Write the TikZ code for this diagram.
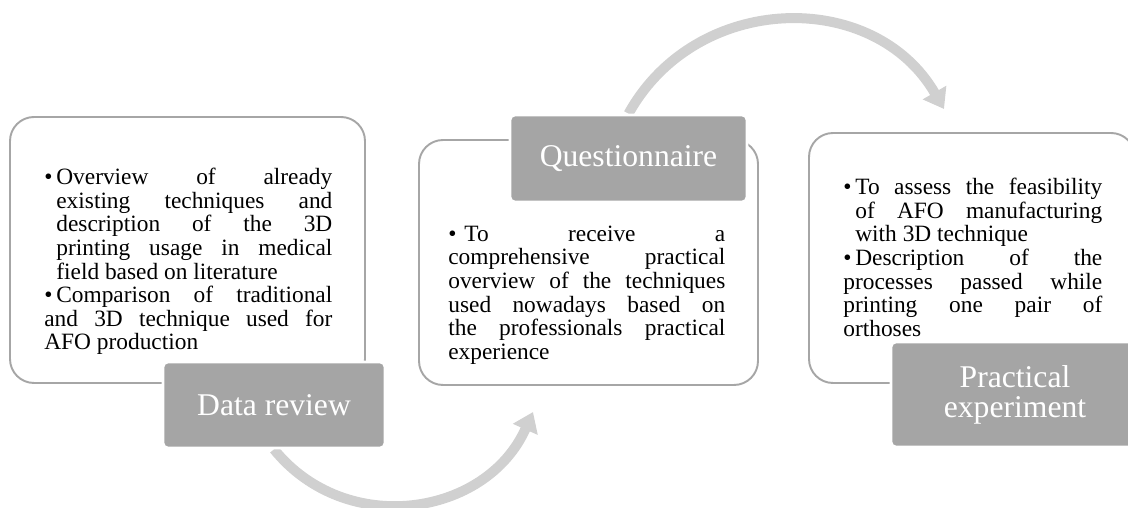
\documentclass[tikz,border=0pt]{standalone}
\usepackage{fontspec}
\setmainfont{Liberation Serif}
\usepackage{tikz}
\usetikzlibrary{arrows.meta, backgrounds}
\definecolor{myframe}{RGB}{166,166,166}
\definecolor{mytitle}{RGB}{165,165,165}
\definecolor{myarc}{RGB}{208,208,208}
\newcommand{\bitem}[2][0.24cm]{\par\tolerance=10000\relax\hyphenpenalty=10000\relax
  \noindent\hangindent=#1\relax\hangafter=1\relax\makebox[#1][l]{\textbullet}#2}
\tikzset{
  outerbox/.style={rectangle, draw=myframe, fill=white,
    line width=1.1pt, rounded corners=0.48cm, inner sep=0pt},
  titlebox/.style={rectangle, draw=white, fill=mytitle,
    line width=1.5pt, rounded corners=0.1cm, inner sep=0pt,
    align=center, text=white, font=\fontsize{18}{17}\selectfont},
  bodytext/.style={inner sep=0pt, anchor=north west, align=justify,
    font=\fontsize{13.3}{13.4}\selectfont},
  cyclearrow/.style={-{Triangle[width=0.52cm,length=0.38cm]},
    line width=0.2cm, color=myarc}
}

\begin{document}
\begin{tikzpicture}
  \useasboundingbox (0,0) rectangle (22.56,10.16);
  % Data review
  \node[outerbox, minimum width=7.1cm, minimum height=5.32cm] (databox) at (3.75,5.16) {};
  \node[titlebox, minimum width=4.44cm, minimum height=1.72cm] (datatitle) at (5.48,2.06) {Data review};
  \node[bodytext, text width=5.76cm] (databody) at (0.88,6.94)
    {\bitem{Overview of already\linebreak existing techniques and\linebreak description of the 3D\linebreak printing usage in medical\linebreak field based on literature}%
     \bitem{Comparison of traditional\linebreak and 3D technique used for\linebreak AFO production}};
  % Questionnaire
  \node[outerbox, minimum width=6.78cm, minimum height=4.90cm] (questbox) at (11.77,4.91) {};
  \node[titlebox, minimum width=4.74cm, minimum height=1.74cm] (questtitle) at (12.57,6.99) {Questionnaire};
  \node[bodytext, text width=5.54cm] (questbody) at (8.96,5.81)
    {\bitem[0.32cm]{To receive a\linebreak comprehensive practical\linebreak overview of the techniques\linebreak used nowadays based on\linebreak the professionals practical\linebreak experience}};
  % Practical experiment
  \node[outerbox, minimum width=6.52cm, minimum height=5.0cm] (practbox) at (19.44,5.00) {};
  \node[titlebox, minimum width=4.96cm, minimum height=2.10cm] (practtitle) at (20.30,2.27) {Practical\\experiment};
  \node[bodytext, text width=5.18cm] (practbody) at (16.86,6.74)
    {\bitem{To assess the feasibility\linebreak of AFO manufacturing\linebreak with 3D technique}%
     \bitem{Description of the\linebreak processes passed while\linebreak printing one pair of\linebreak orthoses}};
  % Cycle arrows
  \coordinate (questtip) at (10.66,1.92);
  \coordinate (practtip) at (18.88,7.98);
  \begin{scope}[on background layer]
    \draw[cyclearrow] (datatitle.south) to[out=-51, in=-114, looseness=1.12] (questtip);
    \draw[cyclearrow] (questtitle.north) to[out=61, in=120, looseness=1.13] (practtip);
  \end{scope}
\end{tikzpicture}
\end{document}
